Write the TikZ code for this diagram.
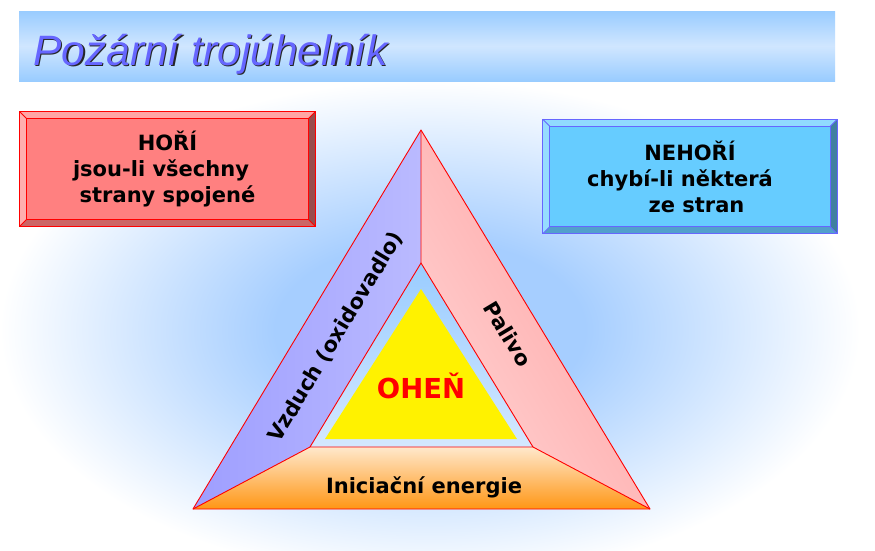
\documentclass[tikz,border=0pt]{standalone}
\usepackage{fontspec}
\setmainfont{DejaVu Sans}
\newfontfamily\titlefont{Liberation Sans}
\usepackage{tikz}
\usetikzlibrary{calc}

\definecolor{glowblue}{RGB}{166,206,255}
\definecolor{barblue}{RGB}{153,204,255}
\definecolor{barlight}{RGB}{208,230,255}
\definecolor{titleblue}{RGB}{102,102,255}
\definecolor{hotface}{RGB}{255,128,128}
\definecolor{hottop}{RGB}{255,165,165}
\definecolor{hotleft}{RGB}{255,175,175}
\definecolor{hotright}{RGB}{153,76,76}
\definecolor{hotbottom}{RGB}{204,102,102}
\definecolor{coldface}{RGB}{102,204,255}
\definecolor{coldtop}{RGB}{145,218,255}
\definecolor{coldleft}{RGB}{150,220,255}
\definecolor{coldright}{RGB}{64,128,160}
\definecolor{coldbottom}{RGB}{82,160,204}
\definecolor{coldline}{RGB}{102,102,255}
\definecolor{airdark}{RGB}{158,158,255}
\definecolor{airlight}{RGB}{186,186,255}
\definecolor{fuellight}{RGB}{255,210,210}
\definecolor{fueldark}{RGB}{255,160,160}
\definecolor{heattop}{RGB}{255,232,204}
\definecolor{heatmid}{RGB}{255,200,140}
\definecolor{heatbottom}{RGB}{255,150,20}
\definecolor{coretop}{RGB}{153,204,255}
\definecolor{corebottom}{RGB}{212,232,255}

\pgfdeclareradialshading{glow}{\pgfpointorigin}{color(0bp)=(glowblue); color(9bp)=(glowblue); color(25bp)=(white); color(50bp)=(white)}

% bevelled box round a node: node, top, right, bottom, left, line
\newcommand{\drawbevel}[6]{%
  \fill[#2] (#1.north west) -- (#1.north east) -- ([shift={(-7,7)}]#1.north east) -- ([shift={(7,7)}]#1.north west) -- cycle;
  \fill[#3] (#1.north east) -- (#1.south east) -- ([shift={(-7,-7)}]#1.south east) -- ([shift={(-7,7)}]#1.north east) -- cycle;
  \fill[#4] (#1.south east) -- (#1.south west) -- ([shift={(7,-7)}]#1.south west) -- ([shift={(-7,-7)}]#1.south east) -- cycle;
  \fill[#5] (#1.south west) -- (#1.north west) -- ([shift={(7,7)}]#1.north west) -- ([shift={(7,-7)}]#1.south west) -- cycle;
  \draw[#6] (#1.north west) rectangle (#1.south east);
  \draw[#6] ([shift={(7,7)}]#1.north west) rectangle ([shift={(-7,-7)}]#1.south east);
  \draw[#6] (#1.north west) -- ([shift={(7,7)}]#1.north west)
            (#1.north east) -- ([shift={(-7,7)}]#1.north east)
            (#1.south east) -- ([shift={(-7,-7)}]#1.south east)
            (#1.south west) -- ([shift={(7,-7)}]#1.south west);
}

\begin{document}
\begin{tikzpicture}[x=1pt,y=-1pt,
	label/.style={font=\bfseries\fontsize{21}{26}\selectfont,inner sep=0pt},
	infobox/.style={label,align=center,minimum width=295pt,minimum height=114pt},
	edge/.style={red,line width=0.9pt,line join=round}]
	\useasboundingbox (0,0) rectangle (875,550);
	\fill[white] (0,0) rectangle (875,550);
	\shade[shading=glow] (430,330) ellipse [x radius=430pt, y radius=250pt];

	% title bar
	\shade[top color=barblue,bottom color=barblue,middle color=barlight] (19,11) rectangle (835,81);
	\node[anchor=base west,inner sep=0pt,font=\titlefont\itshape\fontsize{42.5}{50}\selectfont,text=black!85] at (34.5,66.5) {Požární trojúhelník};
	\node (title) [anchor=base west,inner sep=0pt,font=\titlefont\itshape\fontsize{42.5}{50}\selectfont,text=titleblue] at (33,65) {Požární trojúhelník};

	% boxes
	\node (hori) [infobox,fill=hotface] at (167.5,169) {HOŘÍ\\jsou-li všechny\kern13pt\\strany spojené};
	\drawbevel{hori}{hottop}{hotright}{hotbottom}{hotleft}{red,line width=0.9pt}
	\node (nehori) [infobox,fill=coldface,minimum width=294pt] at (690,176.5) {NEHOŘÍ\\chybí-li některá\kern20pt\\\hspace*{13pt}ze stran};
	\drawbevel{nehori}{coldtop}{coldright}{coldbottom}{coldleft}{coldline,line width=0.9pt}

	% triangle
	\coordinate (top) at (421,130);
	\coordinate (bl) at (193,509);
	\coordinate (br) at (650,509);
	\coordinate (itop) at (421,263);
	\coordinate (ibl) at (310,447);
	\coordinate (ibr) at (533,447);
	\shade[left color=airdark,right color=airlight] (top) -- (itop) -- (ibl) -- (bl) -- cycle;
	\shade[top color=fuellight,bottom color=fueldark,shading angle=121] (top) -- (br) -- (ibr) -- (itop) -- cycle;
	\shade[top color=heattop,middle color=heatmid,bottom color=heatbottom] (ibl) -- (ibr) -- (br) -- (bl) -- cycle;
	\shade[top color=coretop,bottom color=corebottom] (itop) -- (ibr) -- (ibl) -- cycle;
	\fill[yellow] (421,289) -- (517,439) -- (325,439) -- cycle;
	\draw[edge] (top) -- (br) -- (bl) -- cycle;
	\draw[edge] (itop) -- (ibr) -- (ibl) -- cycle;
	\draw[edge] (top) -- (itop) (bl) -- (ibl) (br) -- (ibr);

	% labels
	\node (vzduch) [label,rotate=59] at (336,337) {Vzduch (oxidovadlo)};
	\node (palivo) [label,rotate=-59] at (508,334) {Palivo};
	\node (energie) [label] at (424,487) {Iniciační energie};
	\node (ohen) [label,anchor=base,text=red,font=\bfseries\fontsize{27.5}{33}\selectfont] at (421,398) {OHEŇ};
\end{tikzpicture}
\end{document}
